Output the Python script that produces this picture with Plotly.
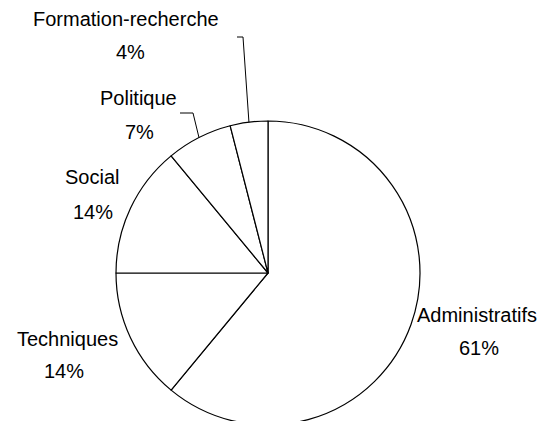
import math
import plotly.graph_objects as go

# ---- data ----
categories = ["Administratifs", "Techniques", "Social", "Politique", "Formation-recherche"]
values = [61, 14, 14, 7, 4]

W, H = 542, 430

def px(x):
    return x / W

def py(y):
    return 1 - y / H

# pie geometry (pixels)
cx, cy, r = 268, 273, 152

fig = go.Figure(go.Pie(
    labels=categories,
    values=values,
    sort=False,
    direction="clockwise",
    rotation=0,
    textinfo="none",
    hoverinfo="label+percent",
    marker=dict(colors=["#ffffff"] * len(values), line=dict(color="#000000", width=1.2)),
    domain=dict(x=[px(cx - r), px(cx + r)], y=[py(cy + r), py(cy - r)]),
    showlegend=False,
))

total = sum(values)
pcts = [f"{round(v / total * 100)}%" for v in values]

# label positions (pixel centres): name line and percentage line
label_pos = {
    "Administratifs": ((477, 315), (479, 348)),
    "Techniques": ((67, 339), (64, 371)),
    "Social": ((92, 177), (93, 212)),
    "Politique": ((138, 98), (139, 132)),
    "Formation-recherche": ((126, 19), (130, 52)),
}

font = dict(family="Liberation Sans, Arial, sans-serif", size=20, color="#000000")
annotations = []
for cat, pct in zip(categories, pcts):
    (nx, ny), (qx, qy) = label_pos[cat]
    annotations.append(dict(x=px(nx), y=py(ny), xref="paper", yref="paper", text=cat,
                            showarrow=False, xanchor="center", yanchor="middle", font=font))
    annotations.append(dict(x=px(qx), y=py(qy), xref="paper", yref="paper", text=pct,
                            showarrow=False, xanchor="center", yanchor="middle", font=font))

# leader lines for the small slices, ending on the arc at slice mid-angle
cum = 0
mid_angle = {}
for cat, v in zip(categories, values):
    mid_angle[cat] = (cum + v / 2) / total * 2 * math.pi
    cum += v

leader_start = {"Politique": ((180, 113), (193, 113)), "Formation-recherche": ((237, 37), (243, 37))}
shapes = []
for cat, (p0, p1) in leader_start.items():
    a = mid_angle[cat]
    ex, ey = cx + r * math.sin(a), cy - r * math.cos(a)
    path = f"M {px(p0[0])} {py(p0[1])} L {px(p1[0])} {py(p1[1])} L {px(ex)} {py(ey)}"
    shapes.append(dict(type="path", path=path, xref="paper", yref="paper",
                       line=dict(color="#000000", width=1)))

fig.update_layout(
    width=W, height=H,
    margin=dict(l=0, r=0, t=0, b=0),
    paper_bgcolor="#ffffff",
    plot_bgcolor="#ffffff",
    annotations=annotations,
    shapes=shapes,
)

fig.write_html("out.html", config={"displayModeBar": False},
               post_script="document.body.style.margin='0';document.body.style.overflow='hidden';")
